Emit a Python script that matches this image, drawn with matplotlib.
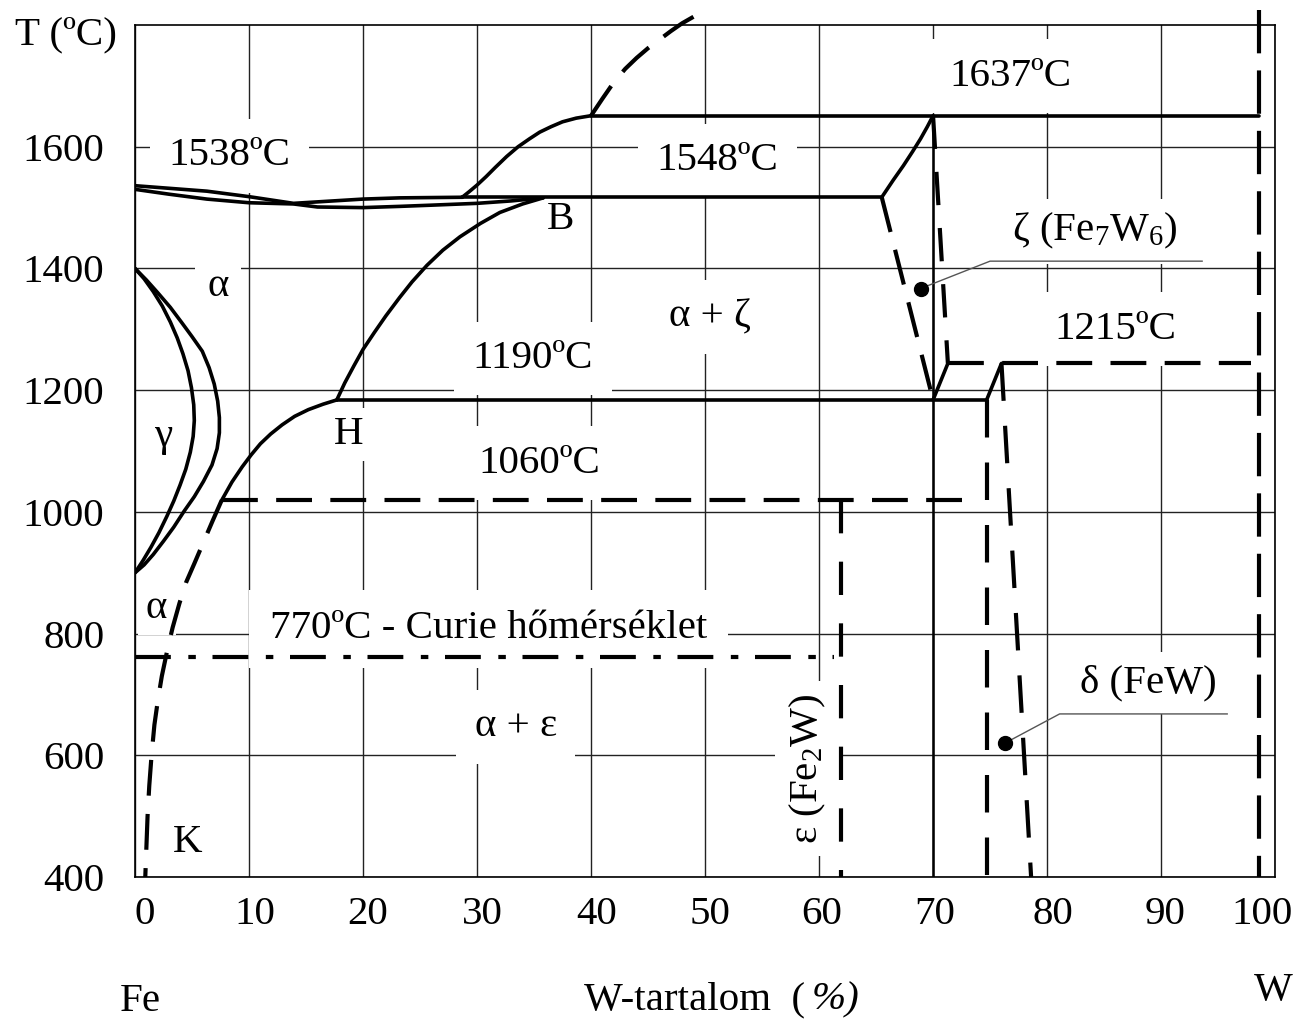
import matplotlib.pyplot as plt
from matplotlib import transforms

plt.rcParams['font.family'] = ['Liberation Serif', 'DejaVu Serif']
plt.rcParams['mathtext.fontset'] = 'custom'
plt.rcParams['mathtext.rm'] = 'Liberation Serif'
plt.rcParams['mathtext.it'] = 'Liberation Serif:italic'

FS = 29.5
LW = 2.6

# phase boundaries: W content (wt%) and temperature (C)
lens_up_x = [0, 6.3, 10, 13.9, 20, 23.2, 28.7]
lens_up_t = [1536, 1527, 1518, 1507, 1514, 1516, 1517]
lens_lo_x = [0, 3, 6.3, 10, 13.9, 16, 20, 23.2, 26, 30, 33, 35.8]
lens_lo_t = [1530, 1522, 1514, 1508, 1506, 1501, 1500, 1502, 1504, 1507, 1511, 1516]

liq_x = [28.7, 29.3, 30, 30.8, 31.6, 32.6, 33.6, 34.6, 35.5, 36.5, 37.5, 38.7, 40]
liq_t = [1517, 1526, 1537, 1551, 1566, 1584, 1600, 1613, 1624, 1633, 1641, 1647, 1651]
liq_dash_x = [40, 41, 42, 43, 44, 45, 46, 47, 48, 49.4]
liq_dash_t = [1651, 1679, 1706, 1728, 1746, 1762, 1776, 1790, 1803, 1818]

bh_x = [35.8, 34, 32, 30.3, 28.5, 27, 25.6, 24.3, 23.2, 22, 21, 20, 19.2, 18.4, 17.7]
bh_t = [1516, 1506, 1492, 1474, 1452, 1430, 1405, 1378, 1352, 1322, 1295, 1267, 1240, 1212, 1184]

h_low_x = [17.7, 16.5, 15.2, 14, 12.9, 11.9, 11, 10.2, 9.4, 8.5, 7.6]
h_low_t = [1184, 1177, 1168, 1157, 1143, 1128, 1112, 1094, 1074, 1049, 1019]
solvus_x = [7.6, 6.8, 6.0, 5.2, 4.5, 3.9, 3.3, 2.8, 2.35, 2.0, 1.7, 1.45, 1.25, 1.1, 1.0, 0.9]
solvus_t = [1019, 985, 950, 915, 885, 850, 810, 770, 730, 690, 650, 600, 550, 500, 450, 400]

gam_in_x = [0, 0.8, 1.6, 2.4, 3.1, 3.7, 4.2, 4.65, 4.95, 5.15, 5.2, 5.1, 4.85, 4.45,
            3.95, 3.4, 2.8, 2.1, 1.4, 0.7, 0]
gam_in_t = [1400, 1383, 1362, 1338, 1312, 1286, 1260, 1232, 1204, 1176, 1150, 1124, 1098, 1070,
            1044, 1018, 993, 966, 942, 920, 900]
gam_out_x = [0, 1.0, 2.0, 3.1, 4.1, 5.0, 5.9, 6.5, 6.95, 7.25, 7.4, 7.4, 7.2, 6.75,
             6.0, 5.2, 4.3, 3.4, 2.5, 1.6, 0.8, 0]
gam_out_t = [1400, 1381, 1360, 1336, 1311, 1288, 1264, 1237, 1210, 1182, 1155, 1130, 1104, 1077,
             1050, 1025, 1001, 975, 952, 930, 913, 900]

zeta_sol_x = [65.5, 66.5, 67.4, 68.2, 68.9, 69.5, 70]
zeta_sol_t = [1517, 1545, 1569, 1592, 1613, 1633, 1651]

# isotherms
t_1637, x_1637 = 1651, [40, 98.6]
t_1548, x_1548 = 1517, [28.7, 65.5]
t_1190, x_1190 = 1184, [17.7, 74.7]
t_1215, x_1215 = 1244, [71.3, 97.9]
t_1060, x_1060 = 1019, [7.6, 73.3]
t_curie, x_curie = 762, [0, 61.3]

# callout dots
zeta_dot = (68.9, 1367)
zeta_lead_x = [68.9, 75, 93.6]
zeta_lead_t = [1367, 1412, 1412]
delta_dot = (76.3, 620)
delta_lead_x = [76.3, 81.1, 95.8]
delta_lead_t = [620, 668, 668]

xticks = [0, 10, 20, 30, 40, 50, 60, 70, 80, 90, 100]
yticks = [400, 600, 800, 1000, 1200, 1400, 1600]

fig = plt.figure(figsize=(12.97, 10.26), dpi=100)
ax = fig.add_axes([0.1041, 0.1452, 0.8790, 0.8304])
ax.set_xlim(0, 100)
ax.set_ylim(400, 1800)
ax.set_axisbelow(True)
ax.set_xticks(xticks)
ax.set_yticks(yticks)
ax.grid(True, color='#222222', lw=1.0)
ax.tick_params(length=0, labelsize=FS)
ax.tick_params(axis='x', pad=14)
ax.tick_params(axis='y', pad=22)
for s in ax.spines.values():
    s.set_linewidth(1.2)
    s.set_zorder(2.5)

xshift = [10, 6, 5, 5, 6, 5, 3, 2, 6, 4, -13]
for lbl, dx in zip(ax.get_xticklabels(), xshift):
    lbl.set_transform(lbl.get_transform() + transforms.ScaledTranslation(dx / 100, 0, fig.dpi_scale_trans))


def solid(x, t, lw=LW, **kw):
    ax.plot(x, t, color='black', lw=lw, solid_joinstyle='round', solid_capstyle='round', zorder=3, **kw)


def dashed(x, t, dashes=(8.6, 4.4), lw=3.0, **kw):
    ax.plot(x, t, color='black', lw=lw, dashes=dashes, zorder=3, **kw)


solid(lens_up_x, lens_up_t)
solid(lens_lo_x, lens_lo_t)
solid(liq_x, liq_t)
dashed(liq_dash_x, liq_dash_t, clip_on=False)
solid(bh_x, bh_t)
solid(h_low_x, h_low_t)
dashed(solvus_x, solvus_t)
solid(gam_in_x, gam_in_t)
solid(gam_out_x, gam_out_t)
solid(zeta_sol_x, zeta_sol_t)

solid(x_1637, [t_1637, t_1637])
solid(x_1548, [t_1548, t_1548])
solid(x_1190, [t_1190, t_1190])
dashed(x_1215, [t_1215, t_1215])
dashed(x_1060, [t_1060, t_1060])
ax.plot(x_curie, [t_curie, t_curie], color='black', lw=3.0, dashes=(8.6, 4.2, 1.8, 4.0), zorder=3)

# zeta region
dashed([65.5, 70], [t_1548, t_1190])
solid([70, 70], [t_1637, 400], lw=1.8)
dashed([70, 71.3], [t_1637, t_1215], dashes=(8, 5.5))
solid([70, 71.3], [t_1190, t_1215])
# delta region
solid([74.7, 76], [t_1190, t_1215])
dashed([74.7, 74.7], [t_1190, 400], dashes=(9, 6))
dashed([76, 78.6], [t_1215, 400], dashes=(9, 6))
# epsilon and pure W
dashed([61.9, 61.9], [t_1060, 400], dashes=(8, 6.8))
dashed([98.6, 98.6], [1825, 400], dashes=(10.4, 4.1), clip_on=False)

ax.plot(zeta_lead_x, zeta_lead_t, color='#555555', lw=1.0, zorder=3)
ax.plot(delta_lead_x, delta_lead_t, color='#555555', lw=1.0, zorder=3)
ax.plot(*zeta_dot, 'o', color='black', ms=10, zorder=4)
ax.plot(*delta_dot, 'o', color='black', ms=10, zorder=4)


def label(x, t, s, pad=0.45, **kw):
    ax.text(x, t, s, ha='center', va='center', fontsize=FS, zorder=2,
            bbox=dict(boxstyle='square,pad=%s' % pad, fc='white', ec='none'), **kw)


label(8.25, 1585, '1538ºC')
label(51.1, 1577, '1548ºC')
label(76.8, 1716, '1637ºC')
label(37.3, 1481, 'B', pad=0.2)
label(7.3, 1371, 'α', pad=0.3)
label(50.4, 1320, 'α + ζ')
label(84.2, 1461, 'ζ (Fe$_7$W$_6$)', pad=0.3)
label(86.0, 1300, '1215ºC')
label(34.9, 1252, '1190ºC')
label(2.46, 1124, 'γ', pad=0.2)
label(18.7, 1127, 'H', pad=0.2)
label(35.5, 1080, '1060ºC')
label(1.9, 842, 'α', pad=0.2)
label(31.0, 808, '770ºC - Curie hőmérséklet', pad=0.5)
label(33.4, 647, 'α + ε')
label(59.0, 578, 'ε (Fe$_2$W)', pad=0.3, rotation=90)
label(88.9, 719, 'δ (FeW)', pad=0.3)
label(4.65, 457, 'K', pad=0.2)

fig.text(0.051, 0.966, 'T (ºC)', ha='center', va='center', fontsize=FS)
fig.text(0.108, 0.0234, 'Fe', ha='center', va='center', fontsize=FS)
fig.text(805 / 1297, 0.0253, 'W-tartalom  (', ha='right', va='center', fontsize=FS)
fig.text(812 / 1297, 0.0253, '%)', ha='left', va='center', fontsize=FS, style='italic')
fig.text(0.9815, 0.035, 'W', ha='center', va='center', fontsize=FS)

fig.savefig('out.png', dpi=100)
